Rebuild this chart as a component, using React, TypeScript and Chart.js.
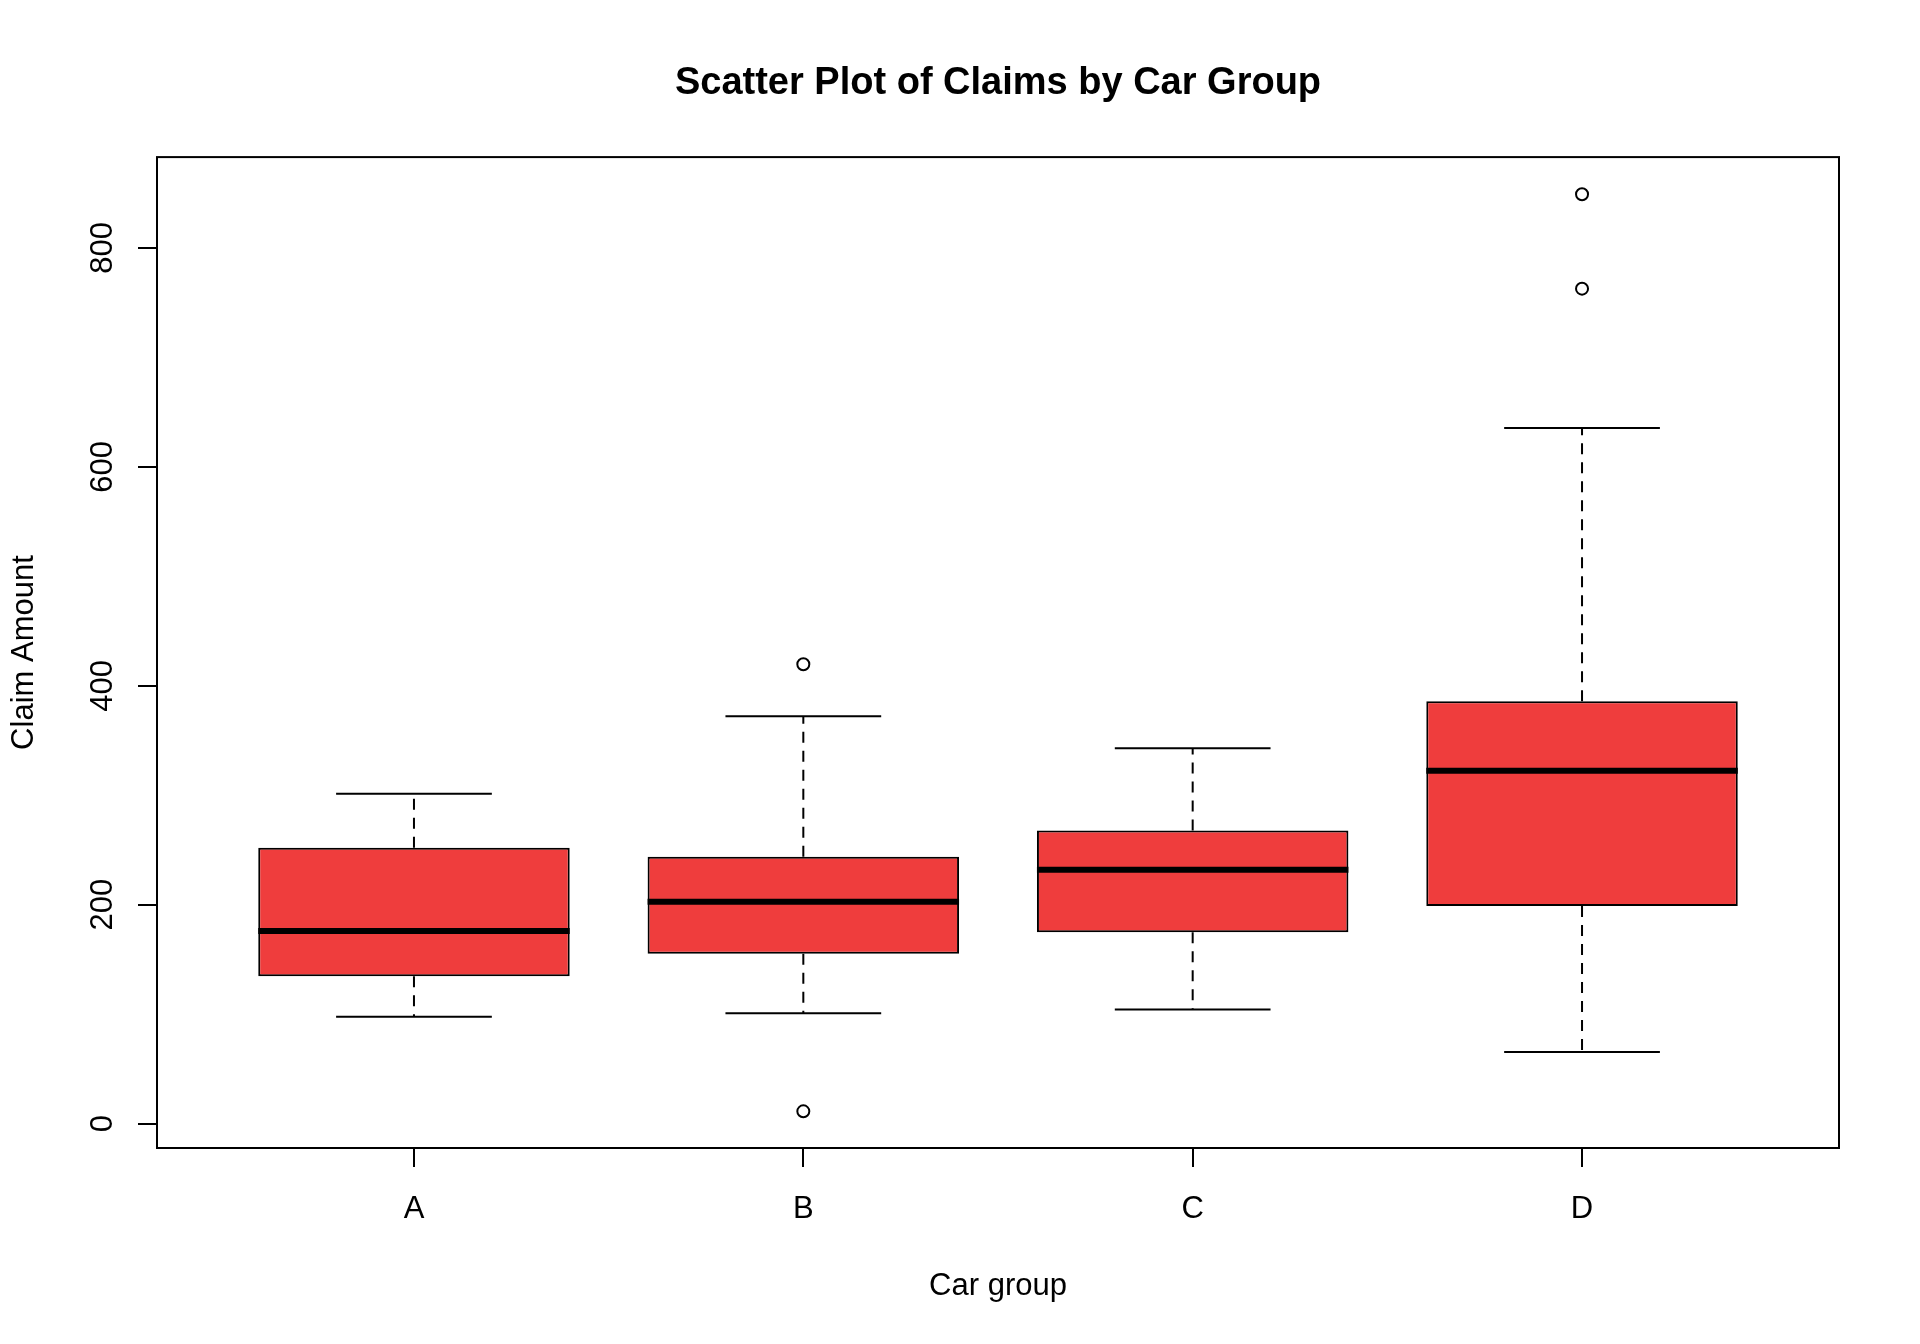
import React, { useEffect, useRef } from "react";
import { Chart, registerables } from "chart.js";

Chart.register(...registerables);

const categories = ["A", "B", "C", "D"];
const categoryPositions = [1, 2, 3, 4];
const lowerWhisker = [97.5, 100.8, 104.2, 65.5];
const q1 = [134.5, 155.2, 174.8, 198.7];
const median = [176.0, 202.6, 232.0, 322.3];
const q3 = [252.0, 243.7, 267.8, 385.9];
const upperWhisker = [301.4, 372.2, 342.9, 635.5];
const outlierGroup = [2, 2, 4, 4];
const outlierValues = [419.7, 11.2, 849.0, 762.8];
const yTicks = [0, 200, 400, 600, 800];

const FONT = "'Liberation Sans', Arial, sans-serif";

const boxPlugin = {
  id: "boxExtras",
  beforeDatasetsDraw(chart: any) {
    const { ctx } = chart;
    const y = chart.scales.y;
    const meta = chart.getDatasetMeta(0);
    ctx.save();
    ctx.strokeStyle = "#000";
    ctx.lineWidth = 2;
    meta.data.forEach((bar: any, i: number) => {
      const cx = bar.x;
      const half = bar.width / 4;
      const yUp = y.getPixelForValue(upperWhisker[i]);
      const yLo = y.getPixelForValue(lowerWhisker[i]);
      const yQ3 = y.getPixelForValue(q3[i]);
      const yQ1 = y.getPixelForValue(q1[i]);
      ctx.setLineDash([11, 8]);
      ctx.beginPath();
      ctx.moveTo(cx, yQ3);
      ctx.lineTo(cx, yUp);
      ctx.moveTo(cx, yQ1);
      ctx.lineTo(cx, yLo);
      ctx.stroke();
      ctx.setLineDash([]);
      ctx.beginPath();
      ctx.moveTo(cx - half, yUp);
      ctx.lineTo(cx + half, yUp);
      ctx.moveTo(cx - half, yLo);
      ctx.lineTo(cx + half, yLo);
      ctx.stroke();
    });
    ctx.restore();
  },
  afterDatasetsDraw(chart: any) {
    const { ctx } = chart;
    const y = chart.scales.y;
    const meta = chart.getDatasetMeta(0);
    ctx.save();
    ctx.strokeStyle = "#000";
    ctx.lineWidth = 6;
    meta.data.forEach((bar: any, i: number) => {
      const ym = y.getPixelForValue(median[i]);
      ctx.beginPath();
      ctx.moveTo(bar.x - bar.width / 2, ym);
      ctx.lineTo(bar.x + bar.width / 2, ym);
      ctx.stroke();
    });
    ctx.restore();
  },
  afterDraw(chart: any) {
    const { ctx, chartArea } = chart;
    const y = chart.scales.y;
    ctx.save();
    ctx.strokeStyle = "#000";
    ctx.lineWidth = 2;
    ctx.strokeRect(chartArea.left, chartArea.top, chartArea.right - chartArea.left, chartArea.bottom - chartArea.top);
    // y tick labels, rotated like R's default
    ctx.fillStyle = "#000";
    ctx.font = `31px ${FONT}`;
    ctx.textAlign = "center";
    ctx.textBaseline = "middle";
    yTicks.forEach((v) => {
      const py = y.getPixelForValue(v);
      ctx.save();
      ctx.translate(103, py);
      ctx.rotate(-Math.PI / 2);
      ctx.fillText(String(v), 0, 0);
      ctx.restore();
    });
    ctx.restore();
  },
};

export default function App() {
  const ref = useRef<HTMLCanvasElement>(null);
  useEffect(() => {
    document.body.style.margin = "0";
    const canvas = ref.current!;
    const chart = new Chart(canvas, {
      type: "bar",
      data: {
        datasets: [
          {
            type: "bar",
            data: categoryPositions.map((x, i) => ({ x, y: [q1[i], q3[i]] })) as any,
            backgroundColor: "#EF3D3D",
            borderColor: "#000",
            borderWidth: 2,
            borderSkipped: false,
            barPercentage: 0.8,
            categoryPercentage: 1.0,
          } as any,
          {
            type: "scatter",
            data: outlierValues.map((v, i) => ({ x: outlierGroup[i], y: v })),
            pointStyle: "circle",
            pointRadius: 6,
            pointBorderWidth: 2,
            pointBackgroundColor: "rgba(255,255,255,0)",
            pointBorderColor: "#000",
            showLine: false,
          } as any,
        ],
      },
      options: {
        responsive: false,
        animation: false,
        devicePixelRatio: 1,
        layout: { padding: { left: 0, right: 81, top: 0, bottom: 0 } },
        plugins: {
          legend: { display: false },
          tooltip: { enabled: false },
          title: {
            display: true,
            fullSize: false,
            text: "Scatter Plot of Claims by Car Group",
            color: "#000",
            font: { family: FONT, size: 38, weight: "bold", lineHeight: 1.2 },
            padding: { top: 60.5, bottom: 51 },
          },
        },
        scales: {
          x: {
            type: "linear",
            min: 0.34,
            max: 4.66,
            offset: false,
            afterFit: (s: any) => {
              s.height = 196;
            },
            afterBuildTicks: (s: any) => {
              s.ticks = categoryPositions.map((v) => ({ value: v }));
            },
            grid: { offset: false, drawOnChartArea: false, drawTicks: true, tickLength: 19, color: "#000", lineWidth: 2 },
            border: { display: false },
            ticks: {
              color: "#000",
              font: { family: FONT, size: 31 },
              padding: 24,
              maxRotation: 0,
              autoSkip: false,
              callback: (v: any) => {
                const idx = categoryPositions.indexOf(Number(v));
                return idx >= 0 ? categories[idx] : "";
              },
            },
            title: {
              display: true,
              text: "Car group",
              color: "#000",
              font: { family: FONT, size: 31, lineHeight: 1.2 },
              padding: { top: 39, bottom: 39 },
            },
          },
          y: {
            type: "linear",
            min: -22.3,
            max: 883,
            afterFit: (s: any) => {
              s.width = 157;
            },
            afterBuildTicks: (s: any) => {
              s.ticks = yTicks.map((v) => ({ value: v }));
            },
            grid: { drawOnChartArea: false, drawTicks: true, tickLength: 19, color: "#000", lineWidth: 2 },
            border: { display: false },
            ticks: { display: false },
            title: {
              display: true,
              text: "Claim Amount",
              color: "#000",
              font: { family: FONT, size: 31, lineHeight: 1.2 },
              padding: { top: 6, bottom: 6 },
            },
          },
        },
      } as any,
      plugins: [boxPlugin],
    });
    return () => chart.destroy();
  }, []);
  return (
    <div style={{ width: 1920, height: 1344, background: "#fff" }}>
      <canvas ref={ref} width={1920} height={1344} style={{ display: "block" }} />
    </div>
  );
}
